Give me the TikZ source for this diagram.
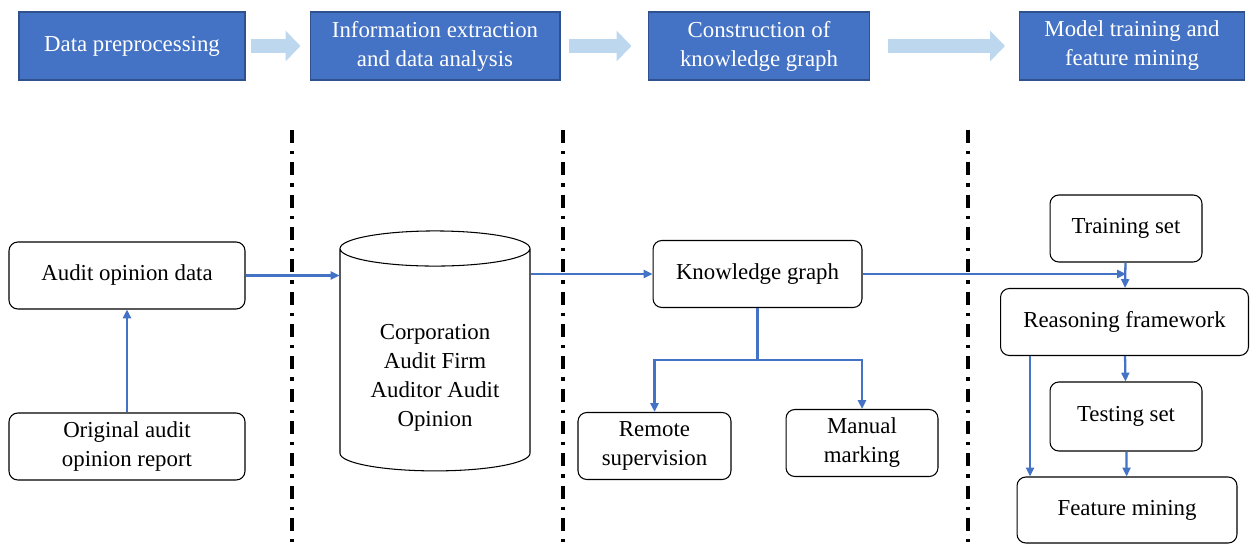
\documentclass[tikz,border=0pt]{standalone}
\usepackage{fontspec}
\setmainfont{Liberation Serif}
\usetikzlibrary{shapes.geometric,arrows.meta}
\definecolor{stageblue}{HTML}{4472C4}
\definecolor{stageedge}{HTML}{2F528F}
\definecolor{paleblue}{HTML}{BDD7EE}
\definecolor{flowblue}{HTML}{4472C4}

\begin{document}
\begin{tikzpicture}[x=0.02cm, y=-0.02cm,
    font=\fontsize{13}{16.5}\selectfont,
    stage/.style={rectangle, draw=stageedge, fill=stageblue, text=white, align=center, minimum height=1.36cm, line width=0.6pt},
    box/.style={rectangle, rounded corners=5pt, draw=black, fill=white, align=center, minimum height=1.34cm, line width=0.6pt},
    flow/.style={draw=flowblue, line width=1.3pt, -{Triangle[length=5pt,width=4.5pt]}},
    bigarrow/.style={draw=paleblue, line width=0.28cm, -{Triangle[length=0.3cm,width=0.6cm]}},
    divider/.style={line width=2pt, dash pattern=on 7.4pt off 4.5pt on 2pt off 4.5pt}]
    \useasboundingbox (0,0) rectangle (1250,544);

    % stages
    \node[stage, minimum width=4.52cm] (s1) at (132,46) {Data preprocessing};
    \node[stage, minimum width=5cm]    (s2) at (435,46) {Information extraction\\and data analysis};
    \node[stage, minimum width=4.42cm] (s3) at (759,46) {Construction of\\knowledge graph};
    \node[stage, minimum width=4.5cm]  (s4) at (1132,46) {Model training and\\feature mining};

    \draw[bigarrow, shorten <=0.1cm, shorten >=0.18cm] (s1) -- (s2);
    \draw[bigarrow, shorten <=0.16cm, shorten >=0.33cm] (s2) -- (s3);
    \draw[bigarrow, shorten <=0.36cm, shorten >=0.28cm] (s3) -- (s4);

    % separators
    \draw[divider] (292,130) -- (292,544);
    \draw[divider] (563,130) -- (563,544);
    \draw[divider] (968,130) -- (968,544);

    % pipeline
    \node[box, minimum width=4.72cm] (ad) at (127,275.5) {Audit opinion data};
    \node[box, minimum width=4.72cm] (or) at (127,446.5) {Original audit\\opinion report};
    \node[cylinder, shape border rotate=90, aspect=0.25, draw, fill=white, line width=0.6pt,
          minimum width=3.8cm, minimum height=4.8cm, align=center] (db) at (435,363)
          {\rule{0pt}{25pt}Corporation\\Audit Firm\\Auditor Audit\\Opinion};
    \node[box, minimum width=4.18cm] (kg) at (757.5,274) {Knowledge graph};
    \node[box, minimum width=3.06cm] (rs) at (654.5,446) {Remote\\supervision};
    \node[box, minimum width=3.04cm] (mm) at (862,443) {Manual\\marking};
    \node[box, minimum width=3.04cm] (trn) at (1126,228.5) {Training set};
    \node[box, minimum width=4.96cm] (rf) at (1124.5,322) {Reasoning framework};
    \node[box, minimum width=3.04cm, minimum height=1.38cm] (tst) at (1126,416.5) {Testing set};
    \node[box, minimum width=4.4cm, minimum height=1.32cm] (fm) at (1127,510) {Feature mining};

    \draw[flow] (or) -- (ad);
    \draw[flow] (ad.east) -- (ad.east -| db.west);
    \draw[flow] (db.east |- kg.west) -- (kg.west);
    \draw[flow] (kg.south) -- ++(0,52) -| (rs.north);
    \draw[flow] (kg.south) -- ++(0,52) -| (mm.north);
    \draw[flow] (kg.east) -- (kg.east -| trn.south);
    \draw[flow] (trn) -- (rf);
    \draw[flow] (rf) -- (tst);
    \draw[flow] (tst) -- (fm);
    \draw[flow] ([xshift=-1.89cm]rf.south) -- ([xshift=-1.89cm]rf.south |- fm.north);
\end{tikzpicture}
\end{document}
